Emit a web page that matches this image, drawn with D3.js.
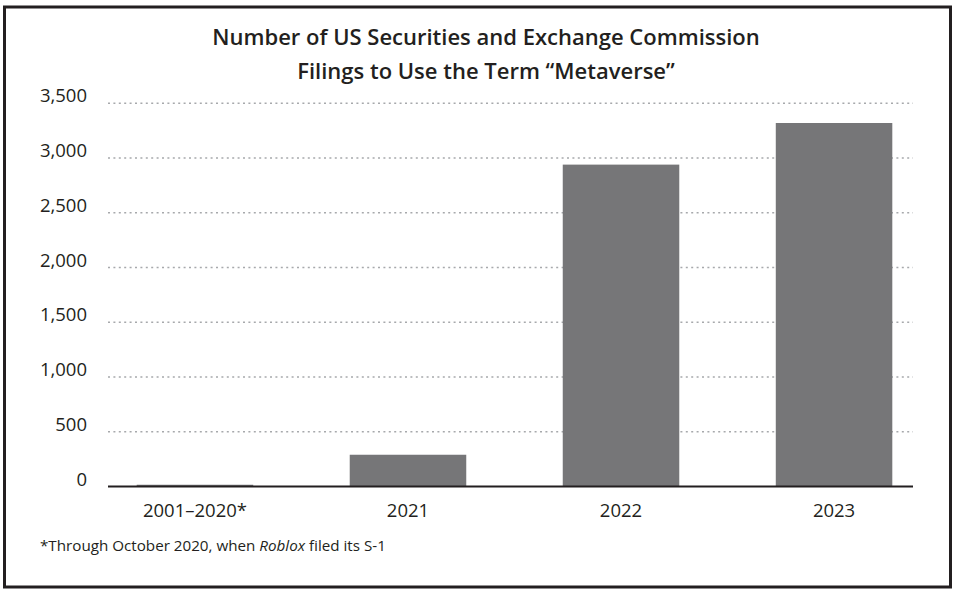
<!DOCTYPE html>
<html>
<head>
<meta charset="utf-8">
<script src="https://cdn.jsdelivr.net/npm/d3@7"></script>
<style>
  body { margin: 0; background: #fff; }
  text { font-family: "Open Sans", sans-serif; fill: #231f20; }
</style>
</head>
<body>
<div class="canvas"></div>
<script>
const categories = ['2001–2020*', '2021', '2022', '2023'];
const filings = [16, 290, 2940, 3320];
const yTicks = [0, 500, 1000, 1500, 2000, 2500, 3000, 3500];
const titleLines = ['Number of US Securities and Exchange Commission', 'Filings to Use the Term “Metaverse”'];

const width = 959;
const height = 591;

const svg = d3.select('.canvas').append('svg')
  .attr('width', width)
  .attr('height', height);

// outer frame
svg.append('rect')
  .attr('x', 4.5)
  .attr('y', 7)
  .attr('width', 946)
  .attr('height', 580)
  .attr('fill', 'none')
  .attr('stroke', '#231f20')
  .attr('stroke-width', 3);

// scales
const y = d3.scaleLinear()
  .domain([0, 3500])
  .range([486.5, 103.3]);

const x = d3.scaleBand()
  .domain(categories)
  .range([109, 920])
  .paddingInner(0.453)
  .paddingOuter(0.13);

const plotLeft = 108;
const plotRight = 913;

// dotted gridlines
svg.append('g').selectAll('line')
  .data(yTicks.filter(d => d > 0))
  .enter().append('line')
  .attr('x1', plotLeft)
  .attr('x2', plotRight)
  .attr('y1', d => y(d))
  .attr('y2', d => y(d))
  .attr('stroke', '#a7a9ac')
  .attr('stroke-width', 1.5)
  .attr('stroke-dasharray', '2,3.4');

// y labels
svg.append('g').selectAll('text')
  .data(yTicks)
  .enter().append('text')
  .attr('x', 87)
  .attr('y', d => y(d) - 1)
  .attr('text-anchor', 'end')
  .attr('font-size', 18.5)
  .text(d => d3.format(',')(d));

// bars
svg.append('g').selectAll('rect')
  .data(filings)
  .enter().append('rect')
  .attr('x', (d, i) => x(categories[i]))
  .attr('y', d => y(d))
  .attr('width', x.bandwidth())
  .attr('height', d => y(0) - y(d))
  .attr('fill', '#767678');

// baseline
svg.append('line')
  .attr('x1', plotLeft)
  .attr('x2', plotRight)
  .attr('y1', y(0))
  .attr('y2', y(0))
  .attr('stroke', '#231f20')
  .attr('stroke-width', 2);

// x labels
svg.append('g').selectAll('text')
  .data(categories)
  .enter().append('text')
  .attr('x', d => x(d) + x.bandwidth() / 2)
  .attr('y', 517)
  .attr('text-anchor', 'middle')
  .attr('font-size', 18.5)
  .text(d => d);

// title
svg.append('g').selectAll('text')
  .data(titleLines)
  .enter().append('text')
  .attr('x', 486)
  .attr('y', (d, i) => 45 + i * 34)
  .attr('text-anchor', 'middle')
  .attr('font-size', 22)
  .attr('font-weight', 600)
  .text(d => d);

// footnote
const note = svg.append('text')
  .attr('x', 40)
  .attr('y', 551)
  .attr('font-size', 15.2);
note.append('tspan').text('*Through October 2020, when ');
note.append('tspan').attr('font-style', 'italic').text('Roblox');
note.append('tspan').text(' filed its S-1');
</script>
</body>
</html>
